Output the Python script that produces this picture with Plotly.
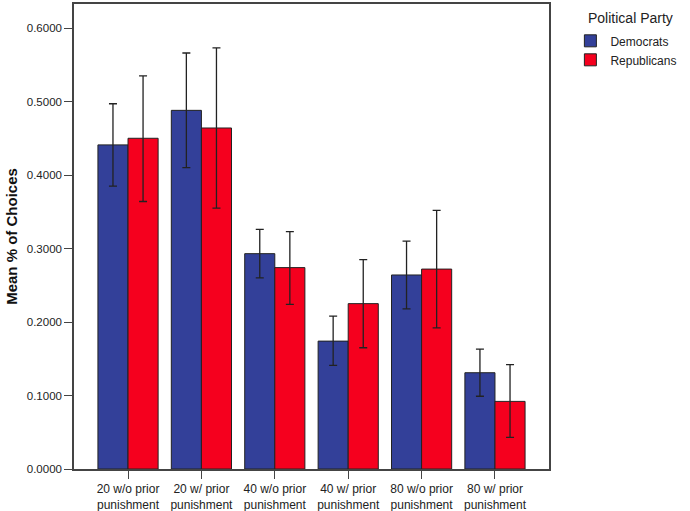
import plotly.graph_objects as go

categories = ["20 w/o prior<br>punishment", "20 w/ prior<br>punishment",
              "40 w/o prior<br>punishment", "40 w/ prior<br>punishment",
              "80 w/o prior<br>punishment", "80 w/ prior<br>punishment"]

dem_mean = [0.441, 0.488, 0.293, 0.174, 0.264, 0.131]
dem_hi = [0.497, 0.566, 0.326, 0.208, 0.310, 0.163]
dem_lo = [0.385, 0.410, 0.260, 0.141, 0.218, 0.099]

rep_mean = [0.450, 0.464, 0.274, 0.225, 0.272, 0.092]
rep_hi = [0.535, 0.573, 0.323, 0.285, 0.352, 0.142]
rep_lo = [0.364, 0.355, 0.224, 0.165, 0.192, 0.043]

y_ticks = [0.0, 0.1, 0.2, 0.3, 0.4, 0.5, 0.6]

legend_title = "Political Party"

def err(mean, hi, lo):
    return dict(type="data", symmetric=False,
                array=[h - m for h, m in zip(hi, mean)],
                arrayminus=[m - l for m, l in zip(mean, lo)],
                color="#222222", thickness=1.3, width=4)

fig = go.Figure()
fig.add_trace(go.Bar(name="Democrats", x=categories, y=dem_mean,
                     marker=dict(color="#334099", line=dict(color="#222222", width=1)),
                     error_y=err(dem_mean, dem_hi, dem_lo)))
fig.add_trace(go.Bar(name="Republicans", x=categories, y=rep_mean,
                     marker=dict(color="#F5001E", line=dict(color="#222222", width=1)),
                     error_y=err(rep_mean, rep_hi, rep_lo)))

fig.add_annotation(text=legend_title, xref="paper", yref="paper",
                   x=1.078, y=0.97, xanchor="left", yanchor="middle",
                   showarrow=False, font=dict(size=14, color="#222222"))

fig.update_layout(
    width=690, height=511,
    margin=dict(l=74, r=141, t=4, b=42),
    paper_bgcolor="white", plot_bgcolor="white",
    font=dict(family="Liberation Sans, Arial, sans-serif", color="#222222", size=11),
    barmode="group", bargap=0.18, bargroupgap=0,
    showlegend=True,
    legend=dict(
        x=1.045, y=0.952, xanchor="left", yanchor="top",
        font=dict(size=12, color="#222222"),
        tracegroupgap=0, itemwidth=30,
    ),
    xaxis=dict(range=[-0.736, 5.736], showline=True, linecolor="#444444", linewidth=1.5,
               mirror=True, ticks="outside", ticklen=8, tickcolor="#444444",
               automargin=False,
               tickfont=dict(size=12, color="#222222"), showgrid=False),
    yaxis=dict(range=[0, 0.6327], showline=True, linecolor="#444444", linewidth=1.5,
               mirror=True, ticks="outside", ticklen=8, tickcolor="#444444",
               automargin=False,
               tickvals=y_ticks, tickformat=".4f", showgrid=False, zeroline=False,
               tickfont=dict(size=11.5, color="#222222"),
               title=dict(text="<b>Mean % of Choices</b>", font=dict(size=15, color="#111111"),
                          standoff=6)),
)

fig.write_html("out.html", config={"displayModeBar": False},
               post_script="document.body.style.margin='0';document.body.style.padding='0';")
